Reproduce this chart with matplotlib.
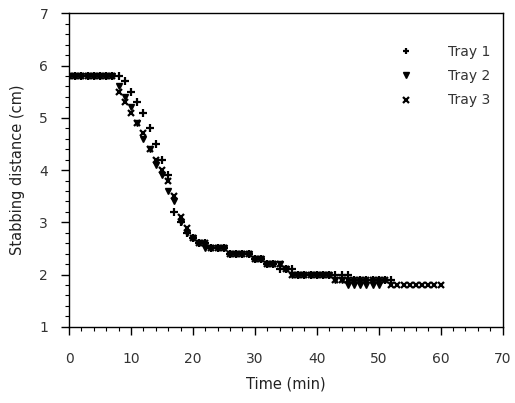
import matplotlib
matplotlib.use("Agg")
import matplotlib.pyplot as plt
from matplotlib.ticker import MultipleLocator

plt.rcParams['font.family'] = ['DejaVu Sans']

time_min = list(range(0, 61))

tray1 = [5.8]*9 + [5.7, 5.5, 5.3, 5.1, 4.8, 4.5, 4.2, 3.9, 3.2, 3.0, 2.8, 2.7, 2.6, 2.6,
                   2.5, 2.5, 2.5, 2.4, 2.4, 2.4, 2.4, 2.3, 2.3, 2.2, 2.2, 2.1, 2.1, 2.1,
                   2.0, 2.0, 2.0, 2.0, 2.0, 2.0, 2.0, 2.0, 2.0, 1.9, 1.9, 1.9, 1.9, 1.9, 1.9, 1.9]
tray2 = [5.8]*8 + [5.6, 5.4, 5.2, 4.9, 4.6, 4.4, 4.1, 3.9, 3.6, 3.4, 3.0, 2.8, 2.7, 2.6,
                   2.5, 2.5, 2.5, 2.5, 2.4, 2.4, 2.4, 2.4, 2.3, 2.3, 2.2, 2.2, 2.2, 2.1,
                   2.0, 2.0, 2.0, 2.0, 2.0, 2.0, 2.0, 1.9, 1.9, 1.8, 1.8, 1.8, 1.8, 1.8, 1.8]
tray3 = [5.8]*8 + [5.5, 5.3, 5.1, 4.9, 4.7, 4.4, 4.2, 4.0, 3.8, 3.5, 3.1, 2.9, 2.7, 2.6,
                   2.6, 2.5, 2.5, 2.5, 2.4, 2.4, 2.4, 2.4, 2.3, 2.3, 2.2, 2.2, 2.2, 2.1,
                   2.0, 2.0, 2.0, 2.0, 2.0, 2.0, 2.0, 1.9, 1.9, 1.9, 1.9, 1.9, 1.9, 1.9, 1.9,
                   1.9, 1.8, 1.8, 1.8, 1.8, 1.8, 1.8, 1.8, 1.8, 1.8]

fig = plt.figure(figsize=(5.15, 4.03), dpi=100)
ax = fig.add_axes([0.134, 0.189, 0.842, 0.778])

ax.plot(time_min[:len(tray1)], tray1, linestyle='none', marker='+', color='black',
        markersize=5.5, markeredgewidth=1.6, label='Tray 1')
ax.plot(time_min[:len(tray2)], tray2, linestyle='none', marker='v', color='black',
        markersize=4.5, label='Tray 2')
ax.plot(time_min[:len(tray3)], tray3, linestyle='none', marker='x', color='black',
        markersize=4.5, markeredgewidth=1.6, label='Tray 3')

ax.set_xlim(0, 70)
ax.set_ylim(1, 7)
ax.xaxis.set_major_locator(MultipleLocator(10))
ax.xaxis.set_minor_locator(MultipleLocator(2))
ax.yaxis.set_major_locator(MultipleLocator(1))
ax.yaxis.set_minor_locator(MultipleLocator(0.2))
ax.tick_params(which='major', direction='out', length=6, width=1, labelsize=10,
               labelcolor='#333333', pad=12)
ax.tick_params(axis='y', which='major', pad=9)
ax.tick_params(which='minor', direction='out', length=3, width=0.8)
ax.tick_params(top=False, right=False, which='both')
for s in ax.spines.values():
    s.set_linewidth(1.0)

ax.set_xlabel('Time (min)', fontsize=10.5, color='#222222', labelpad=8)
ax.set_ylabel('Stabbing distance (cm)', fontsize=10.5, color='#222222', labelpad=10)

leg = ax.legend(loc='upper right', frameon=False, fontsize=10, handletextpad=2.0,
                labelspacing=0.75, bbox_to_anchor=(1.0, 0.94), markerscale=0.9)
for t in leg.get_texts():
    t.set_color('#333333')

fig.savefig('out.png', dpi=100)
